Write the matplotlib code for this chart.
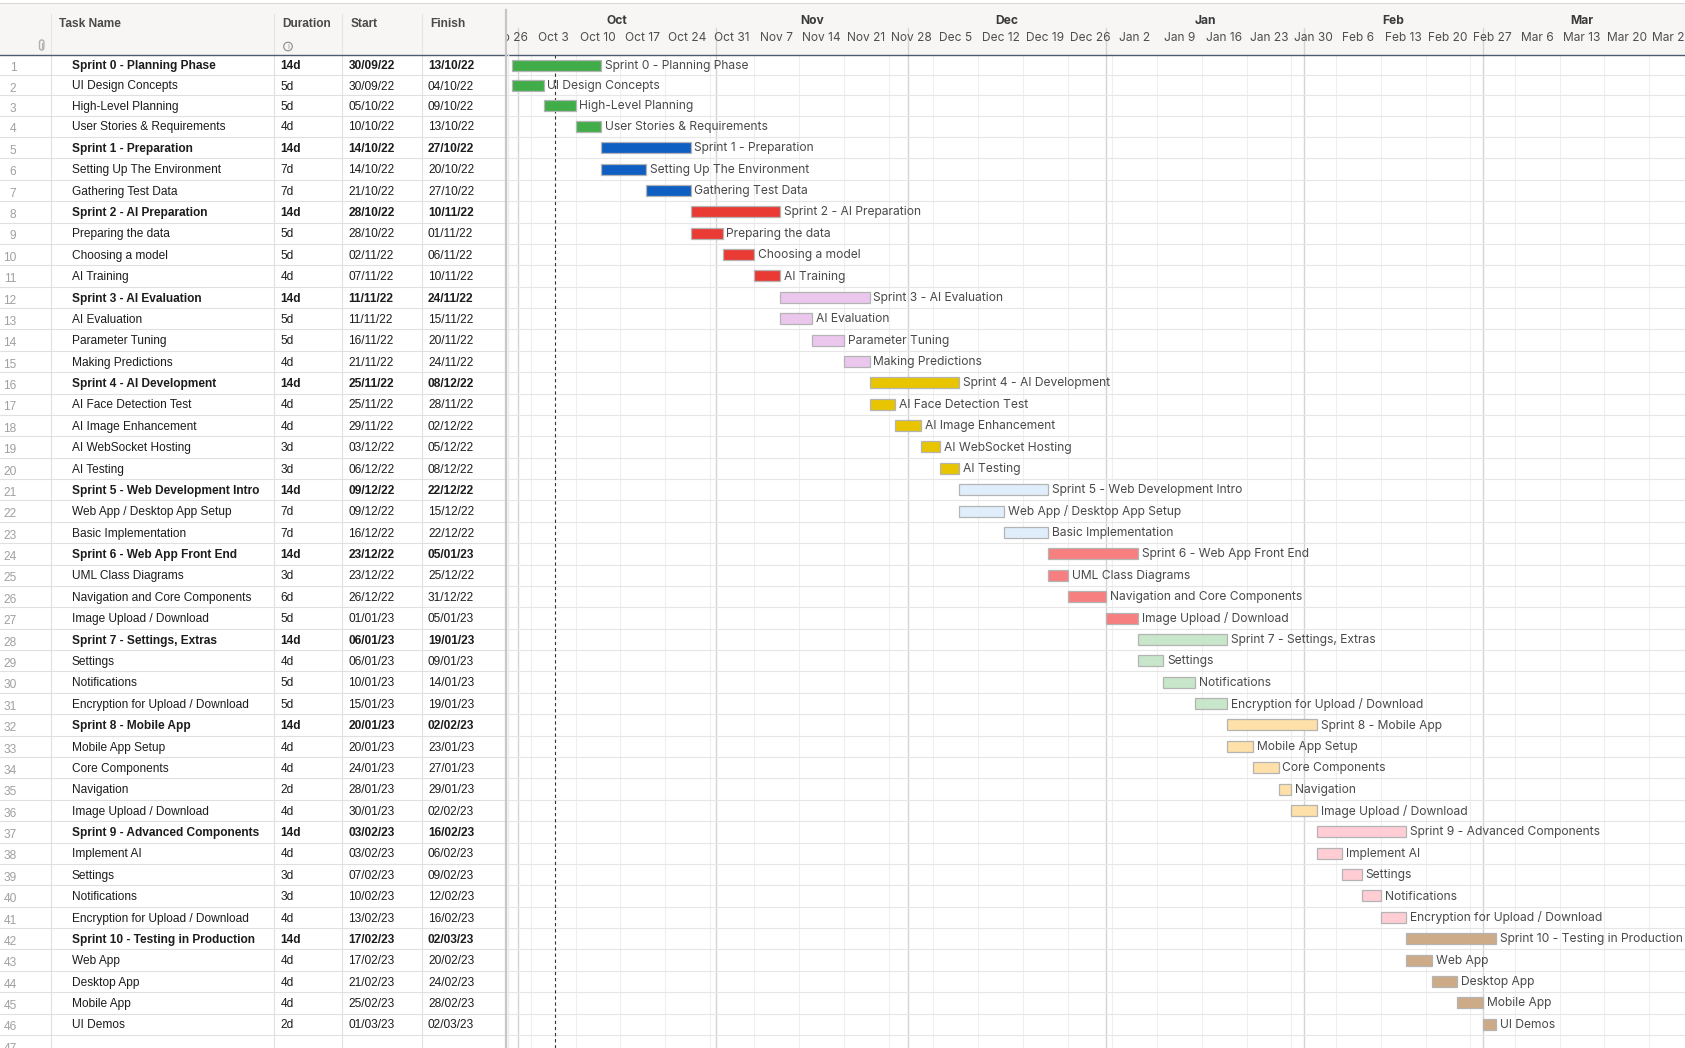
import matplotlib
matplotlib.use("Agg")
import matplotlib.pyplot as plt
import matplotlib.dates as mdates
from matplotlib.patches import Rectangle, Circle, FancyBboxPatch
from datetime import datetime, timedelta

# ---- data ----
task_names = [
    "Sprint 0 - Planning Phase", "UI Design Concepts", "High-Level Planning", "User Stories & Requirements",
    "Sprint 1 - Preparation", "Setting Up The Environment", "Gathering Test Data",
    "Sprint 2 - AI Preparation", "Preparing the data", "Choosing a model", "AI Training",
    "Sprint 3 - AI Evaluation", "AI Evaluation", "Parameter Tuning", "Making Predictions",
    "Sprint 4 - AI Development", "AI Face Detection Test", "AI Image Enhancement", "AI WebSocket Hosting", "AI Testing",
    "Sprint 5 - Web Development Intro", "Web App / Desktop App Setup", "Basic Implementation",
    "Sprint 6 - Web App Front End", "UML Class Diagrams", "Navigation and Core Components", "Image Upload / Download",
    "Sprint 7 - Settings, Extras", "Settings", "Notifications", "Encryption for Upload / Download",
    "Sprint 8 - Mobile App", "Mobile App Setup", "Core Components", "Navigation", "Image Upload / Download",
    "Sprint 9 - Advanced Components", "Implement AI", "Settings", "Notifications", "Encryption for Upload / Download",
    "Sprint 10 - Testing in Production", "Web App", "Desktop App", "Mobile App", "UI Demos",
]
durations = [
    "14d", "5d", "5d", "4d",
    "14d", "7d", "7d",
    "14d", "5d", "5d", "4d",
    "14d", "5d", "5d", "4d",
    "14d", "4d", "4d", "3d", "3d",
    "14d", "7d", "7d",
    "14d", "3d", "6d", "5d",
    "14d", "4d", "5d", "5d",
    "14d", "4d", "4d", "2d", "4d",
    "14d", "4d", "3d", "3d", "4d",
    "14d", "4d", "4d", "4d", "2d",
]
start_dates = [
    "30/09/22", "30/09/22", "05/10/22", "10/10/22",
    "14/10/22", "14/10/22", "21/10/22",
    "28/10/22", "28/10/22", "02/11/22", "07/11/22",
    "11/11/22", "11/11/22", "16/11/22", "21/11/22",
    "25/11/22", "25/11/22", "29/11/22", "03/12/22", "06/12/22",
    "09/12/22", "09/12/22", "16/12/22",
    "23/12/22", "23/12/22", "26/12/22", "01/01/23",
    "06/01/23", "06/01/23", "10/01/23", "15/01/23",
    "20/01/23", "20/01/23", "24/01/23", "28/01/23", "30/01/23",
    "03/02/23", "03/02/23", "07/02/23", "10/02/23", "13/02/23",
    "17/02/23", "17/02/23", "21/02/23", "25/02/23", "01/03/23",
]
finish_dates = [
    "13/10/22", "04/10/22", "09/10/22", "13/10/22",
    "27/10/22", "20/10/22", "27/10/22",
    "10/11/22", "01/11/22", "06/11/22", "10/11/22",
    "24/11/22", "15/11/22", "20/11/22", "24/11/22",
    "08/12/22", "28/11/22", "02/12/22", "05/12/22", "08/12/22",
    "22/12/22", "15/12/22", "22/12/22",
    "05/01/23", "25/12/22", "31/12/22", "05/01/23",
    "19/01/23", "09/01/23", "14/01/23", "19/01/23",
    "02/02/23", "23/01/23", "27/01/23", "29/01/23", "02/02/23",
    "16/02/23", "06/02/23", "09/02/23", "12/02/23", "16/02/23",
    "02/03/23", "20/02/23", "24/02/23", "28/02/23", "02/03/23",
]
sprint_colors = ["#41ad49", "#0f5fc2", "#e93a34", "#ebc7ee", "#e8c500", "#e0eefb",
                 "#f77f7f", "#c8e6c9", "#fee0a8", "#ffcdd3", "#ceab88"]
today = datetime(2022, 10, 6, 20)

# ---- layout (pixels) ----
W, H = 1685, 1048
HEAD_TOP, HEAD_BOT = 3, 55
SEP_X = 506
PX_DAY = 6.391
OCT1_X = 518

TABLE_FONT = "Liberation Sans"
TL_FONT = "Inter"

starts = [datetime.strptime(s, "%d/%m/%y") for s in start_dates]
ends = [datetime.strptime(s, "%d/%m/%y") + timedelta(days=1) for s in finish_dates]
is_parent = [n.startswith("Sprint") for n in task_names]
sprint_idx = []
k = -1
for p in is_parent:
    if p:
        k += 1
    sprint_idx.append(k)

# row geometry: first rows a little shorter, like the screenshot
n_rows = len(task_names) + 1
row_h = [20.2] * 3 + [21.38] * (n_rows - 3)
row_top = [HEAD_BOT]
for h in row_h:
    row_top.append(row_top[-1] + h)
row_mid = [(row_top[i] + row_top[i + 1]) / 2 for i in range(n_rows)]

fig = plt.figure(figsize=(W / 100, H / 100), dpi=100)

# background / table axes in pixel coordinates
bg = fig.add_axes([0, 0, 1, 1])
bg.set_xlim(0, W)
bg.set_ylim(H, 0)
bg.axis("off")

bg.add_patch(Rectangle((0, HEAD_TOP), W, HEAD_BOT - HEAD_TOP, color="#f7f6f5", lw=0))
bg.plot([0, W], [HEAD_TOP, HEAD_TOP], color="#d9d9d9", lw=0.8)

col_lines = [50.7, 274.3, 342.3, 422.3]
for x in col_lines:
    bg.plot([x, x], [14, HEAD_BOT], color="#e4e4e4", lw=0.8)
    bg.plot([x, x], [HEAD_BOT, H], color="#e0e0e0", lw=0.8)
for y in row_top[1:]:
    bg.plot([0, SEP_X], [y, y], color="#e0e0e0", lw=0.8)

head_kw = dict(fontsize=8.6, fontweight="bold", color="#4a4a4a", family=TABLE_FONT, va="center")
bg.text(59.3, 24.0, "Task Name", **head_kw)
bg.text(282.7, 24.0, "Duration", **head_kw)
bg.text(350.7, 24.0, "Start", **head_kw)
bg.text(430, 24.0, "Finish", **head_kw)

# info icon and attachment icon
bg.add_patch(Circle((288, 46.5), 4.3, fill=False, ec="#8a8a8a", lw=0.8))
bg.text(288, 46.8, "i", fontsize=5, color="#8a8a8a", ha="center", va="center", family="DejaVu Sans")
bg.add_patch(FancyBboxPatch((39.5, 40), 4.4, 10, boxstyle="round,pad=0,rounding_size=2.2",
                            fill=False, ec="#b0b0b0", lw=1.0))
bg.plot([41.7, 41.7], [43, 48], color="#b0b0b0", lw=0.8)

for i in range(n_rows):
    yc = row_mid[i] + 1.2
    bg.text(16.5, yc + 2, str(i + 1), fontsize=8.6, color="#a0a0a0", ha="right", va="center",
            family=TABLE_FONT)
    if i >= len(task_names):
        continue
    w = "bold" if is_parent[i] else "normal"
    kw = dict(fontsize=8.6, color="#1c1c1c", va="center", family=TABLE_FONT, fontweight=w)
    bg.text(72, yc, task_names[i], **kw)
    bg.text(280.5, yc, durations[i], **kw)
    bg.text(348.5, yc, start_dates[i], **kw)
    bg.text(428, yc, finish_dates[i], **kw)

# ---- timeline ----
oct1 = mdates.date2num(datetime(2022, 10, 1))
x_left = oct1 - (OCT1_X - SEP_X) / PX_DAY
x_right = x_left + (W - SEP_X) / PX_DAY

ax = fig.add_axes([SEP_X / W, 0, (W - SEP_X) / W, (H - HEAD_BOT) / H])
ax.set_facecolor("none")
ax.set_xlim(x_left, x_right)
ax.set_ylim(H, HEAD_BOT)
ax.axis("off")

mondays = [datetime(2022, 9, 26) + timedelta(weeks=w) for w in range(27)]
month_starts = [datetime(2022, 10, 1), datetime(2022, 11, 1), datetime(2022, 12, 1),
                datetime(2023, 1, 1), datetime(2023, 2, 1), datetime(2023, 3, 1)]
for d in mondays:
    ax.axvline(d, color="#efefef", lw=0.8, zorder=0)
for d in month_starts:
    ax.axvline(d, color="#d4d4d4", lw=1.0, zorder=0)
for y in row_top[1:]:
    ax.axhline(y, color="#e6e6e6", lw=0.8, zorder=0)

ax.axvline(today, color="#333333", lw=0.8, ls=(0, (3, 2.5)), zorder=1)

for i in range(len(task_names)):
    left = mdates.date2num(starts[i])
    width = mdates.date2num(ends[i]) - left
    ax.barh(row_mid[i], width, left=left, height=11, color=sprint_colors[sprint_idx[i]],
            edgecolor="#b4b4b4", linewidth=0.9, zorder=2)
    ax.annotate(task_names[i], (left + width, row_mid[i] + 0.6), xytext=(2.8, 0), textcoords="offset points",
                fontsize=8.7, color="#4a4a4a", va="center", family=TL_FONT, zorder=3,
                annotation_clip=False, clip_on=True)

# timeline header
hx = fig.add_axes([SEP_X / W, (H - HEAD_BOT) / H, (W - SEP_X) / W, (HEAD_BOT - HEAD_TOP) / H])
hx.set_facecolor("none")
hx.set_xlim(x_left, x_right)
hx.set_ylim(HEAD_BOT, HEAD_TOP)
hx.axis("off")
month_names = ["Oct", "Nov", "Dec", "Jan", "Feb", "Mar"]
month_ends = month_starts[1:] + [datetime(2023, 4, 1)]
for name, a, b in zip(month_names, month_starts, month_ends):
    mid = (mdates.date2num(a) + mdates.date2num(b)) / 2
    hx.text(mid, 21.3, name, fontsize=8.7, fontweight="bold", color="#3a3a3a", ha="center",
            va="center", family=TL_FONT, clip_on=True)
    hx.plot([a, a], [28, HEAD_BOT], color="#d4d4d4", lw=1.0)
for d in mondays:
    hx.text(mdates.date2num(d) + 3.5, 37.6, d.strftime("%b ") + str(d.day), fontsize=8.6,
            color="#4e4e4e", ha="center", va="center", family=TL_FONT, clip_on=True)

# overlay: header line + pane separator
ov = fig.add_axes([0, 0, 1, 1])
ov.set_xlim(0, W)
ov.set_ylim(H, 0)
ov.axis("off")
ov.plot([0, W], [HEAD_BOT, HEAD_BOT], color="#4d5b6e", lw=1.0)
ov.plot([SEP_X, SEP_X], [10, H], color="#c6c6c6", lw=1.6)
ov.plot([SEP_X + 2, SEP_X + 2], [HEAD_BOT, H], color="#ececec", lw=1.0)

fig.savefig("out.png", dpi=100)
